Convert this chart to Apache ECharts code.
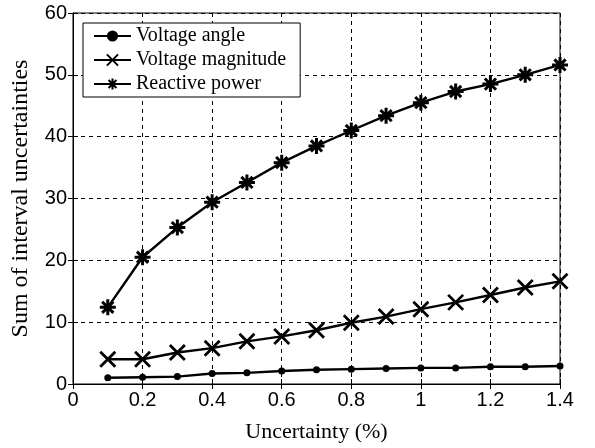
<!DOCTYPE html>
<html><head><meta charset="utf-8">
<script src="https://cdn.jsdelivr.net/npm/echarts@6/dist/echarts.min.js"></script>
<style>html,body{margin:0;padding:0;background:#fff}#c{width:595px;height:448px}</style>
</head><body><div id="c"></div>
<script>
const xValues = [0.1,0.2,0.3,0.4,0.5,0.6,0.7,0.8,0.9,1.0,1.1,1.2,1.3,1.4];
const voltageAngle = [1.0,1.1,1.2,1.7,1.8,2.1,2.3,2.4,2.5,2.6,2.6,2.8,2.8,2.9];
const voltageMagnitude = [4.0,4.0,5.1,5.8,6.9,7.7,8.7,9.9,10.9,12.1,13.2,14.4,15.6,16.6];
const reactivePower = [12.4,20.5,25.3,29.4,32.6,35.8,38.5,41.0,43.4,45.5,47.3,48.5,50.0,51.6];
const seriesNames = ['Voltage angle','Voltage magnitude','Reactive power'];
const xTitle = 'Uncertainty (%)';
const yTitle = 'Sum of interval uncertainties';

const pairs = a => xValues.map((x,i)=>[x,a[i]]);
const crossSym = 'path://M0,0L10,10M10,0L0,10';
const starSym = 'path://M5,0L5,10M0,5L10,5M1.5,1.5L8.5,8.5M8.5,1.5L1.5,8.5';
const serif = '"Liberation Serif", "Times New Roman", serif';
const sans = '"Liberation Sans", Arial, sans-serif';

const chart = echarts.init(document.getElementById('c'), null, {renderer:'canvas'});
const base = {type:'line', lineStyle:{color:'#000', width:2.4}, animation:false};
chart.setOption({
  backgroundColor:'#fff',
  color:['#000','#000','#000'],
  grid:{left:73, right:35, top:13, bottom:63, show:true, borderColor:'#000', borderWidth:1},
  legend:{
    orient:'vertical', left:83, top:23, itemWidth:37, itemHeight:14, itemGap:4,
    padding:[3,14,3,10],
    backgroundColor:'#fff', borderColor:'#000', borderWidth:1, borderRadius:0,
    textStyle:{fontFamily:serif, fontSize:20, color:'#000'},
    data:seriesNames
  },
  xAxis:[{
    type:'value', min:0, max:1.4, interval:0.2,
    name:xTitle, nameLocation:'middle', nameGap:37,
    nameTextStyle:{fontFamily:serif, fontSize:22, color:'#000'},
    axisLine:{lineStyle:{color:'#000'}},
    axisTick:{inside:true, length:5, lineStyle:{color:'#000'}},
    axisLabel:{fontFamily:sans, fontSize:20, color:'#000', margin:6,
      formatter:v=>String(Math.round(v*10)/10)},
    splitLine:{show:true, lineStyle:{color:'#000', type:[4,4], width:1}}
  },{
    type:'value', min:0, max:1.4, interval:0.2, position:'top',
    axisLine:{lineStyle:{color:'#000'}},
    axisTick:{inside:true, length:5, lineStyle:{color:'#000'}},
    axisLabel:{show:false}, splitLine:{show:false}
  }],
  yAxis:[{
    type:'value', min:0, max:60, interval:10,
    name:yTitle, nameLocation:'middle', nameGap:40,
    nameTextStyle:{fontFamily:serif, fontSize:24, color:'#000'},
    axisLine:{show:true, lineStyle:{color:'#000'}},
    axisTick:{show:true, inside:true, length:5, lineStyle:{color:'#000'}},
    axisLabel:{fontFamily:sans, fontSize:20, color:'#000', margin:6},
    splitLine:{show:true, lineStyle:{color:'#000', type:[4,4], width:1}}
  },{
    type:'value', min:0, max:60, interval:10, position:'right',
    axisLine:{show:true, lineStyle:{color:'#000'}},
    axisTick:{show:true, inside:true, length:5, lineStyle:{color:'#000'}},
    axisLabel:{show:false}, splitLine:{show:false}
  }],
  series:[
    Object.assign({}, base, {name:seriesNames[0], data:pairs(voltageAngle),
      symbol:'circle', symbolSize:7, itemStyle:{color:'#000'}}),
    Object.assign({}, base, {name:seriesNames[1], data:pairs(voltageMagnitude),
      symbol:crossSym, symbolSize:15, itemStyle:{color:'#000', borderColor:'#000', borderWidth:2.8}}),
    Object.assign({}, base, {name:seriesNames[2], data:pairs(reactivePower),
      symbol:starSym, symbolSize:16, itemStyle:{color:'#000', borderColor:'#000', borderWidth:3}})
  ]
});
</script></body></html>
